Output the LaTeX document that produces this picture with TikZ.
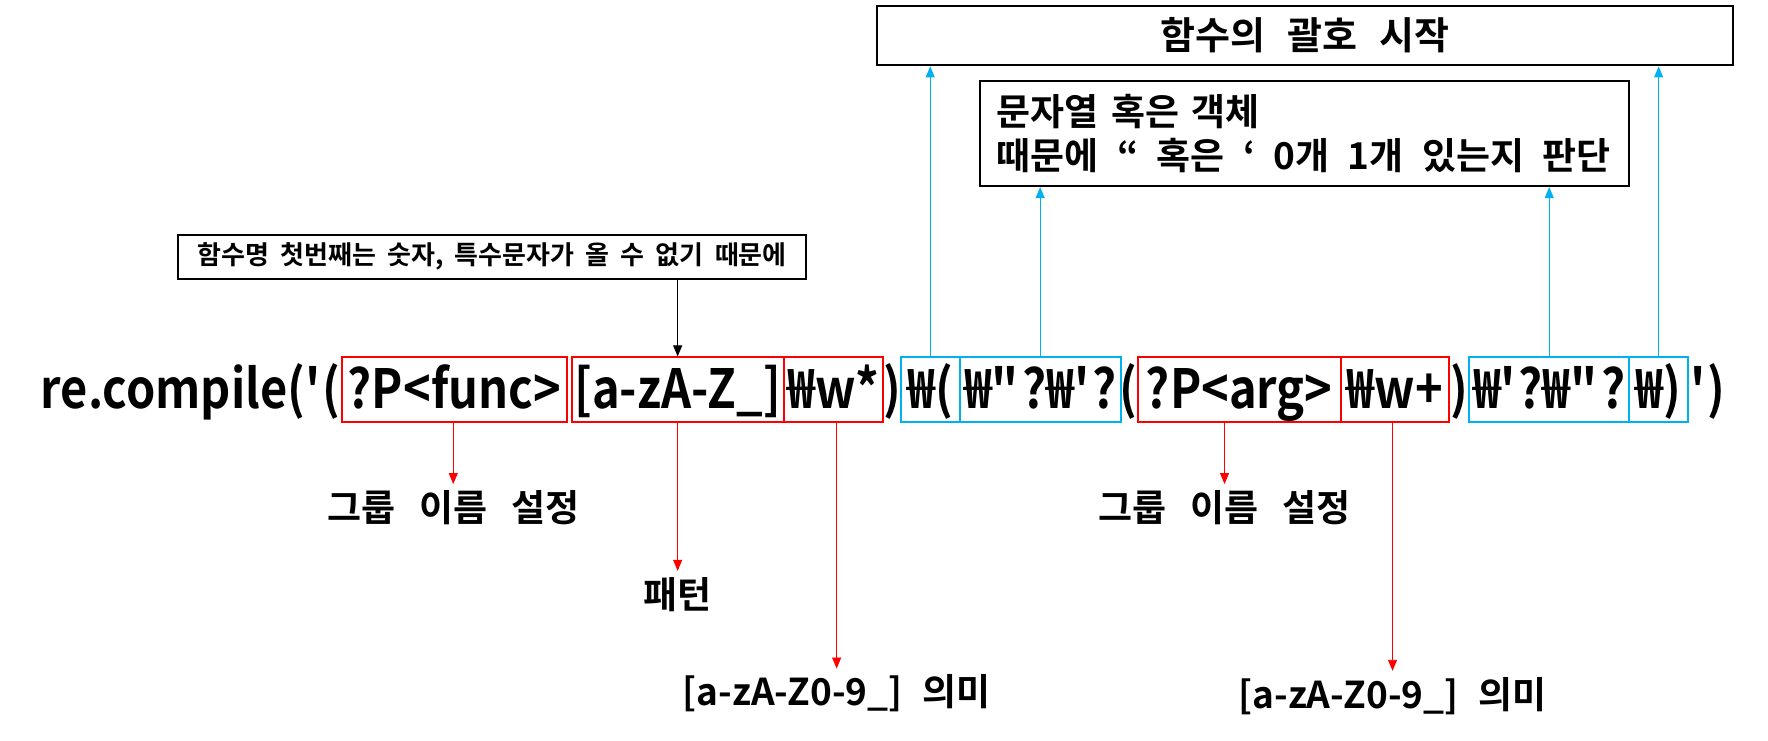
\documentclass[tikz,border=0pt]{standalone}
\usepackage{fontspec}
\newfontfamily\kr{Noto Sans CJK KR Bold}
\newfontfamily\krmain{Noto Sans CJK KR Bold}[FakeStretch=0.87]
\newfontfamily\krsmall{Noto Sans CJK KR Bold}[WordSpace=1.9]
\usetikzlibrary{arrows.meta,calc}
\definecolor{myblue}{RGB}{0,176,240}
\begin{document}
\begin{tikzpicture}[x=1.1276pt,y=-1.1276pt,
  seg/.style={inner sep=0pt, minimum height=64.3pt, text height=50.8pt, text depth=13.5pt, font=\krmain\fontsize{54pt}{60pt}\selectfont},
  redbox/.style={seg, draw=red, line width=2pt},
  bluebox/.style={seg, draw=myblue, line width=2pt},
  plain/.style={seg},
  note/.style={draw=black, line width=2pt, inner sep=0pt},
  lbl/.style={inner sep=0pt, font=\kr\fontsize{37pt}{44pt}\selectfont},
  tip/.style={-{Triangle[length=11pt,width=9pt]}, line width=0.9pt},
  redarrow/.style={tip, draw=red, fill=red},
  bluearrow/.style={tip, draw=myblue, fill=myblue},
  blackarrow/.style={tip, draw=black, fill=black},
]
\fill[white] (0,0) rectangle (1568,657);
\useasboundingbox (0,0) rectangle (1568,657);

% main expression
\node[redbox, minimum width=225.5pt] (r1) at (403,345.5) {?P<func>};
\node[redbox, minimum width=212pt] (r2) at (601,345.5) {[a-zA-Z\_]};
\node[redbox, minimum width=99.2pt] (r3) at (739,345.5) {₩w*};
\node[bluebox, minimum width=58.6pt] (b1) at (825,345.5) {₩(};
\node[bluebox, minimum width=161.2pt] (b2) at (922.5,345.5) {₩\textquotedbl?₩\textquotesingle?};
\node[redbox, minimum width=203pt] (r4) at (1099,345.5) {?P<arg>};
\node[redbox, minimum width=108.2pt] (r5) at (1237,345.5) {₩w+};
\node[bluebox, minimum width=160.1pt] (b3) at (1374,345.5) {₩\textquotesingle?₩\textquotedbl?};
\node[bluebox, minimum width=58.6pt] (b4) at (1471,345.5) {₩)};
\node[plain, anchor=east] (pre) at (r1.west) {re.compile(\textquotesingle(};
\node[plain] (c1) at (791,345.5) {)};
\node[plain] (c2) at (1001,345.5) {(};
\node[plain] (c3) at (1294,345.5) {)};
\node[plain, anchor=west] (post) at (1499,345.5) {\textquotesingle)};

% notes
\node[note, minimum width=856pt, minimum height=59.8pt, font=\kr\fontsize{38pt}{44pt}\selectfont] (top) at (1157.5,31.5) {함수의\hspace{5.5pt} 괄호\hspace{5.5pt} 시작};
\node[note, minimum height=105pt, text width=615.5pt, inner xsep=17pt, align=left, font=\kr\fontsize{37pt}{44pt}\selectfont] (sec) at (1157,118.5) {문자열 혹은 객체\\때문에\hspace{6pt} “\hspace{6pt} 혹은\hspace{6pt} ‘\hspace{6pt} 0개\hspace{6pt} 1개\hspace{6pt} 있는지\hspace{6pt} 판단};
\node[note, minimum width=628pt, minimum height=44pt, font=\krsmall\fontsize{26pt}{30pt}\selectfont] (small) at (436.5,227.5) {함수명 첫번째는 숫자, 특수문자가 올 수 없기 때문에};

% labels
\node[lbl] (g1) at (402,450) {그룹\hspace{8pt} 이름\hspace{8pt} 설정};
\node[lbl] (pat) at (601,527) {패턴};
\node[lbl] (m1) at (742,615) {[a-zA-Z0-9\_]\hspace{4pt} 의미};
\node[lbl] (g2) at (1086,450) {그룹\hspace{8pt} 이름\hspace{8pt} 설정};
\node[lbl] (m2) at (1235,617) {[a-zA-Z0-9\_]\hspace{4pt} 의미};

% connectors
\draw[blackarrow] (small.south -| r2.north) -- (r2.north);
\draw[bluearrow] (b1.north) -- (b1.north |- top.south);
\draw[bluearrow] (b2.north) -- (b2.north |- sec.south);
\draw[bluearrow] (b3.north) -- (b3.north |- sec.south);
\draw[bluearrow] (b4.north) -- (b4.north |- top.south);
\draw[redarrow, shorten >=6pt] (r1.south -| g1.north) -- (g1.north);
\draw[redarrow, shorten >=6pt] (r2.south -| pat.north) -- (pat.north);
\draw[redarrow, shorten >=6pt] (r3.south -| m1.north) -- (m1.north);
\draw[redarrow, shorten >=6pt] (r4.south -| g2.north) -- (g2.north);
\draw[redarrow, shorten >=6pt] (r5.south -| m2.north) -- (m2.north);
\end{tikzpicture}
\end{document}
